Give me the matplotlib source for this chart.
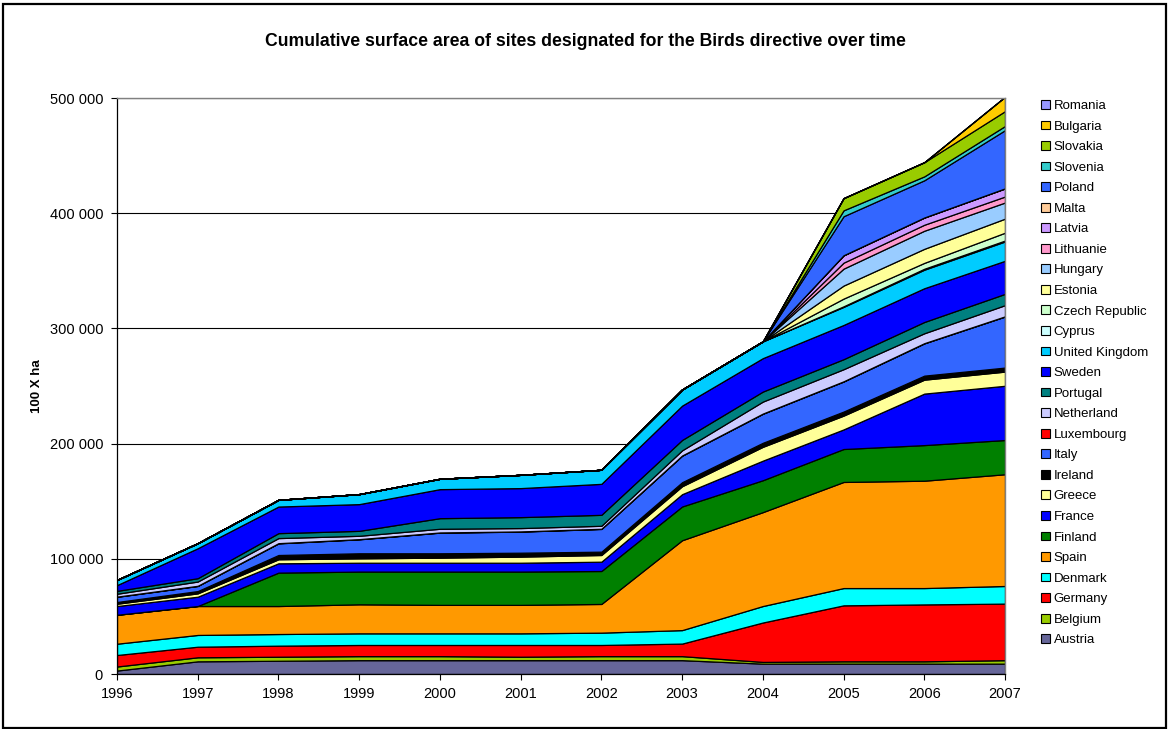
import matplotlib
matplotlib.use("Agg")
import matplotlib.pyplot as plt
from matplotlib.patches import Patch, Rectangle
from matplotlib.ticker import FuncFormatter, MultipleLocator

plt.rcParams['font.family'] = ['Liberation Sans', 'DejaVu Sans']

years = [1996, 1997, 1998, 1999, 2000, 2001, 2002, 2003, 2004, 2005, 2006, 2007]

countries = ["Austria", "Belgium", "Germany", "Denmark", "Spain", "Finland", "France",
             "Greece", "Ireland", "Italy", "Luxembourg", "Netherland", "Portugal",
             "Sweden", "United Kingdom", "Cyprus", "Czech Republic", "Estonia",
             "Hungary", "Lithuanie", "Latvia", "Malta", "Poland", "Slovenia",
             "Slovakia", "Bulgaria", "Romania"]

austria = [3000, 11000, 11500, 12000, 12000, 12000, 12000, 12000, 9000, 9000, 9000, 9000]
belgium = [3500, 3500, 3500, 3500, 3500, 3000, 3500, 3500, 1500, 2000, 2000, 3000]
germany = [10000, 9200, 9600, 9700, 9700, 10200, 9700, 10900, 34200, 48600, 49400, 49100]
denmark = [9800, 10200, 10100, 10100, 10100, 10100, 10700, 11700, 14300, 15000, 14200, 15300]
spain = [25100, 25100, 24300, 25200, 24700, 24700, 24900, 78000, 81500, 92100, 93200, 97000]
finland = [0, 0, 29000, 28400, 28900, 28900, 28600, 29300, 27700, 28600, 30900, 29700]
france = [7600, 8100, 8100, 7700, 7700, 7700, 8100, 10700, 17000, 17000, 44700, 47100]
greece = [2000, 2900, 3500, 3800, 4400, 5300, 5800, 6900, 12000, 12000, 12100, 12300]
ireland = [1500, 2000, 3700, 4400, 3800, 3400, 2900, 3500, 3500, 3500, 3500, 3500]
italy = [4500, 4400, 10100, 12100, 17900, 18300, 19700, 23000, 25200, 26100, 28000, 44300]
luxembourg = [170, 170, 170, 170, 170, 170, 170, 170, 170, 170, 170, 170]
netherland = [2500, 3700, 4400, 2900, 3200, 2900, 2600, 4500, 10400, 10500, 8600, 9700]
portugal = [2500, 2900, 4300, 4300, 9200, 9500, 9500, 9000, 8700, 8700, 9800, 9800]
sweden = [5000, 26000, 23100, 23200, 25200, 25200, 26900, 29800, 29000, 29700, 29300, 28700]
united_kingdom = [4500, 4400, 5800, 8700, 9000, 11500, 12200, 14000, 14600, 15700, 16100, 16800]
cyprus = [0, 0, 0, 0, 0, 0, 0, 0, 0, 500, 800, 800]
czech_republic = [0, 0, 0, 0, 0, 0, 0, 0, 0, 6700, 5100, 6800]
estonia = [0, 0, 0, 0, 0, 0, 0, 0, 0, 11300, 12200, 12200]
hungary = [0, 0, 0, 0, 0, 0, 0, 0, 0, 14700, 15700, 14000]
lithuanie = [0, 0, 0, 0, 0, 0, 0, 0, 0, 5200, 5200, 5200]
latvia = [0, 0, 0, 0, 0, 0, 0, 0, 0, 6300, 6200, 7000]
malta = [0, 0, 0, 0, 0, 0, 0, 0, 0, 100, 100, 100]
poland = [0, 0, 0, 0, 0, 0, 0, 0, 0, 33900, 32300, 50500]
slovenia = [0, 0, 0, 0, 0, 0, 0, 0, 0, 5100, 3400, 3600]
slovakia = [0, 0, 0, 0, 0, 0, 0, 0, 0, 10600, 12300, 12900]
bulgaria = [0, 0, 0, 0, 0, 0, 0, 0, 0, 0, 0, 12500]
romania = [0, 0, 0, 0, 0, 0, 0, 0, 0, 0, 0, 0]

series = [austria, belgium, germany, denmark, spain, finland, france, greece, ireland,
          italy, luxembourg, netherland, portugal, sweden, united_kingdom, cyprus,
          czech_republic, estonia, hungary, lithuanie, latvia, malta, poland, slovenia,
          slovakia, bulgaria, romania]

colors = ["#666699", "#99CC00", "#FF0000", "#00FFFF", "#FF9900", "#008000", "#0000FF",
          "#FFFF99", "#000000", "#3366FF", "#FF0000", "#CCCCFF", "#008080", "#0000FF",
          "#00CCFF", "#CCFFFF", "#CCFFCC", "#FFFF99", "#99CCFF", "#FF99CC", "#CC99FF",
          "#FFCC99", "#3366FF", "#33CCCC", "#99CC00", "#FFCC00", "#9999FF"]

W, H = 1168, 729
fig = plt.figure(figsize=(W / 100, H / 100), dpi=100)
ax = fig.add_axes([117 / W, 1 - 674 / H, (1005 - 117) / W, (674 - 98) / H])

ax.stackplot(years, *series, colors=colors, edgecolor="black", linewidth=0.9)

ax.set_xlim(1996, 2007)
ax.set_ylim(0, 500000)
ax.set_xticks(years)
ax.yaxis.set_major_locator(MultipleLocator(100000))
ax.yaxis.set_major_formatter(FuncFormatter(lambda v, p: f"{int(v):,}".replace(",", " ")))
ax.set_axisbelow(True)
ax.yaxis.grid(True, color="black", linewidth=0.8)
ax.tick_params(axis="both", direction="out", length=4, width=0.8, color="black",
               labelsize=10.5)
ax.tick_params(axis="y", pad=6)
ax.tick_params(axis="x", pad=5)
for s in ["top", "right"]:
    ax.spines[s].set_color("#808080")
    ax.spines[s].set_linewidth(1.0)
for s in ["left", "bottom"]:
    ax.spines[s].set_color("black")
    ax.spines[s].set_linewidth(0.9)

ax.set_ylabel("100 X ha", fontsize=9.5, fontweight="bold", labelpad=5)

fig.text(585 / W, 1 - 41 / H, "Cumulative surface area of sites designated for the Birds directive over time",
         ha="center", va="center", fontsize=12.7, fontweight="bold")

handles = [Patch(facecolor=c, edgecolor="black", linewidth=0.8) for c in colors]
leg = fig.legend(handles[::-1], countries[::-1], loc="upper left",
                 bbox_to_anchor=(1041 / W, 1 - 100 / H), frameon=False,
                 fontsize=9.5, handlelength=0.65, handleheight=0.65,
                 handletextpad=0.3, labelspacing=0.645, borderaxespad=0,
                 borderpad=0)

fig.add_artist(Rectangle((2.5 / W, 1.5 / H), (W - 5) / W, (H - 5.5) / H,
                         transform=fig.transFigure, fill=False,
                         edgecolor="black", linewidth=1.6))

fig.savefig("out.png", dpi=100, facecolor="white")
